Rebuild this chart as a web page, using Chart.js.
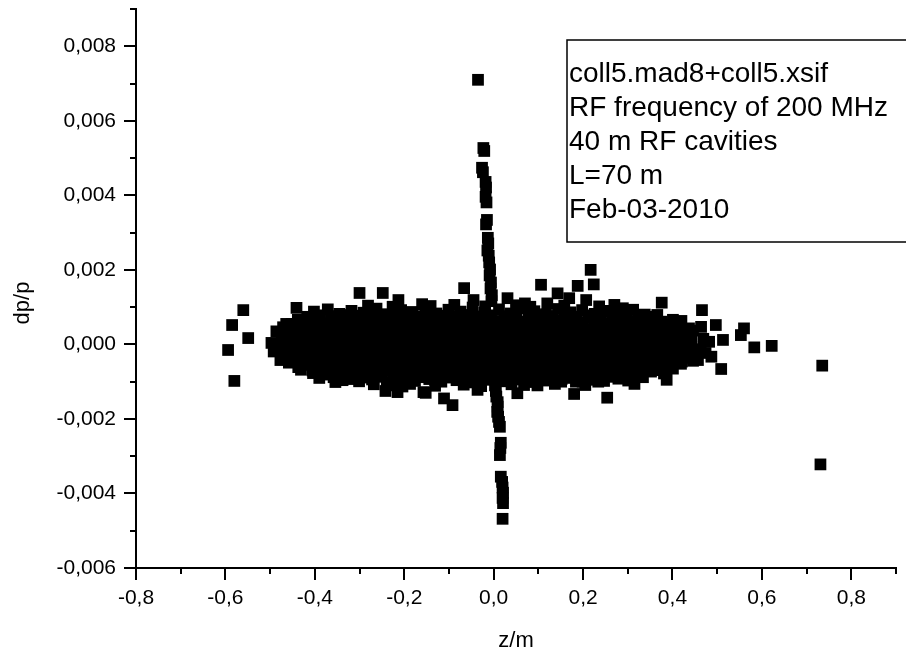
<!DOCTYPE html>
<html>
<head>
<meta charset="utf-8">
<script src="https://cdn.jsdelivr.net/npm/chart.js@4.4.1/dist/chart.umd.min.js"></script>
<style>
  html, body { margin: 0; padding: 0; background: #fff; }
  #wrap { width: 906px; height: 654px; }
</style>
</head>
<body>
<div id="wrap"><canvas id="myChart" width="906" height="654"></canvas></div>
<script>
  // axis ranges and tick steps
  const zMin = -0.8, zMax = 0.9, zStep = 0.1;
  const dpMin = -0.006, dpMax = 0.009, dpStep = 0.001;

  // text box in the upper right corner
  const noteLines = ['coll5.mad8+coll5.xsif', 'RF frequency of 200 MHz', '40 m RF cavities', 'L=70 m', 'Feb-03-2010'];

  // dense core of the bunch, [z, dp/p], read row by row
  const coreTop = [
    [-0.281,0.00104],[-0.226,0.00101],[-0.141,0.00103],[-0.088,0.00106],[-0.019,0.00102],[0.050,0.00105],[0.082,0.00101],
    [0.158,0.00104],[0.236,0.00102],[0.270,0.00106],
    [-0.402,0.00088],[-0.371,0.00094],[-0.345,0.00082],[-0.318,0.00090],[-0.291,0.00085],[-0.262,0.00096],[-0.238,0.00081],
    [-0.207,0.00092],[-0.181,0.00087],[-0.153,0.00097],[-0.128,0.00083],[-0.101,0.00093],[-0.074,0.00088],[-0.047,0.00099],
    [-0.021,0.00086],[0.012,0.00094],[0.038,0.00083],[0.064,0.00097],[0.091,0.00089],[0.117,0.00081],[0.144,0.00095],
    [0.172,0.00086],[0.198,0.00092],[0.226,0.00082],[0.254,0.00090],[0.283,0.00084],[0.312,0.00093],[0.338,0.00080],
    [-0.389,0.00078],[-0.358,0.00076],[-0.331,0.00079],[-0.304,0.00077],[-0.276,0.00075],[-0.250,0.00079],[-0.221,0.00076],
    [-0.194,0.00078],[-0.167,0.00075],[-0.141,0.00079],[-0.114,0.00077],[-0.087,0.00076],[-0.060,0.00079],[-0.034,0.00075],
    [-0.006,0.00078],[0.025,0.00076],[0.051,0.00079],[0.078,0.00075],[0.104,0.00078],[0.131,0.00076],[0.158,0.00079],
    [0.185,0.00074],[0.212,0.00078],[0.240,0.00076],[0.268,0.00079],[0.297,0.00075],[0.325,0.00077],[0.361,0.00074],
    [-0.438,0.00066],[-0.412,0.00071],[-0.389,0.00062],[-0.364,0.00069],[-0.337,0.00064],[-0.311,0.00072],[-0.286,0.00061],
    [-0.259,0.00068],[-0.233,0.00063],[-0.208,0.00070],[-0.182,0.00065],[-0.156,0.00071],[-0.131,0.00062],[-0.104,0.00069],
    [-0.079,0.00064],[-0.052,0.00072],[-0.026,0.00066],[0.004,0.00063],[0.029,0.00070],[0.055,0.00061],[0.081,0.00068],
    [0.107,0.00073],[0.133,0.00064],[0.159,0.00069],[0.186,0.00062],[0.212,0.00071],[0.239,0.00065],[0.266,0.00060],
    [0.292,0.00068],[0.321,0.00063],[0.349,0.00070],[0.376,0.00061],[0.401,0.00066],
    [-0.452,0.00055],[-0.425,0.00057],[-0.401,0.00054],[-0.376,0.00056],[-0.350,0.00058],[-0.323,0.00053],[-0.298,0.00056],
    [-0.272,0.00055],[-0.246,0.00057],[-0.220,0.00054],[-0.195,0.00056],[-0.169,0.00058],[-0.143,0.00053],[-0.117,0.00056],
    [-0.091,0.00055],[-0.065,0.00057],[-0.039,0.00054],[-0.013,0.00056],[0.016,0.00058],[0.042,0.00053],[0.068,0.00056],
    [0.094,0.00055],[0.120,0.00057],[0.146,0.00054],[0.172,0.00056],[0.199,0.00058],[0.225,0.00053],[0.252,0.00056],
    [0.279,0.00055],[0.306,0.00057],[0.334,0.00054],[0.362,0.00056],[0.390,0.00053],[0.418,0.00055],
    [-0.447,0.00042],[-0.423,0.00049],[-0.398,0.00044],[-0.374,0.00050],[-0.349,0.00041],[-0.324,0.00047],
    [-0.299,0.00043],[-0.273,0.00049],[-0.248,0.00045],[-0.222,0.00040],[-0.197,0.00048],[-0.171,0.00044],[-0.146,0.00050],
    [-0.121,0.00042],[-0.094,0.00047],[-0.068,0.00043],[-0.043,0.00049],[-0.017,0.00045],[0.011,0.00041],[0.036,0.00048],
    [0.062,0.00044],[0.088,0.00050],[0.114,0.00042],[0.139,0.00046],[0.166,0.00043],[0.191,0.00049],[0.217,0.00041],
    [0.243,0.00047],[0.269,0.00044],[0.296,0.00050],[0.323,0.00042],[0.351,0.00046],[0.379,0.00040],[0.408,0.00048],[0.437,0.00043]
  ];
  const coreMid = [
    [-0.461,0.00037],[-0.437,0.00034],[-0.412,0.00036],[-0.387,0.00038],[-0.362,0.00033],[-0.337,0.00036],
    [-0.311,0.00035],[-0.286,0.00037],[-0.261,0.00034],[-0.236,0.00036],[-0.210,0.00038],[-0.184,0.00033],[-0.159,0.00036],
    [-0.133,0.00035],[-0.108,0.00037],[-0.082,0.00034],[-0.056,0.00036],[-0.031,0.00038],[-0.005,0.00033],[0.021,0.00036],
    [0.047,0.00035],[0.073,0.00037],[0.099,0.00034],[0.125,0.00036],[0.151,0.00038],[0.177,0.00033],[0.203,0.00036],
    [0.229,0.00035],[0.256,0.00037],[0.282,0.00034],[0.309,0.00036],[0.336,0.00038],[0.363,0.00033],[0.390,0.00036],
    [0.418,0.00034],[0.446,0.00037],
    [-0.455,0.00029],[-0.431,0.00024],[-0.406,0.00030],[-0.382,0.00022],[-0.357,0.00028],
    [-0.332,0.00025],[-0.306,0.00021],[-0.281,0.00027],[-0.256,0.00023],[-0.231,0.00029],[-0.205,0.00024],[-0.180,0.00020],
    [-0.154,0.00026],[-0.129,0.00022],[-0.103,0.00028],[-0.077,0.00025],[-0.052,0.00021],[-0.026,0.00027],[0.002,0.00023],
    [0.027,0.00029],[0.053,0.00024],[0.079,0.00020],[0.105,0.00026],[0.131,0.00022],[0.157,0.00028],[0.183,0.00025],
    [0.209,0.00021],[0.235,0.00027],[0.261,0.00023],[0.288,0.00029],[0.314,0.00024],[0.341,0.00020],[0.368,0.00026],
    [0.396,0.00022],[0.423,0.00028],
    [-0.461,0.00016],[-0.437,0.00014],[-0.412,0.00017],[-0.387,0.00012],[-0.362,0.00015],
    [-0.337,0.00014],[-0.312,0.00016],[-0.287,0.00013],[-0.262,0.00015],[-0.236,0.00017],[-0.211,0.00012],[-0.185,0.00015],
    [-0.160,0.00014],[-0.134,0.00016],[-0.109,0.00013],[-0.083,0.00015],[-0.057,0.00017],[-0.032,0.00012],[-0.006,0.00015],
    [0.021,0.00014],[0.047,0.00016],[0.073,0.00013],[0.099,0.00015],[0.125,0.00017],[0.151,0.00012],[0.177,0.00015],
    [0.203,0.00014],[0.229,0.00016],[0.255,0.00013],[0.281,0.00015],[0.308,0.00017],[0.334,0.00012],[0.361,0.00015],
    [0.388,0.00014],[0.415,0.00016],[0.442,0.00013],
    [-0.474,0.00008],[-0.449,0.00003],[-0.425,0.00007],[-0.400,0.00001],[-0.375,0.00005],
    [-0.350,0.00009],[-0.325,0.00002],[-0.300,0.00006],[-0.274,0.00003],[-0.249,0.00008],[-0.224,0.00001],[-0.198,0.00005],
    [-0.173,0.00009],[-0.147,0.00002],[-0.122,0.00006],[-0.096,0.00003],[-0.070,0.00008],[-0.045,0.00001],[-0.019,0.00005],
    [0.008,0.00009],[0.034,0.00002],[0.060,0.00006],[0.086,0.00003],[0.112,0.00008],[0.138,0.00001],[0.164,0.00005],
    [0.190,0.00009],[0.216,0.00002],[0.242,0.00006],[0.268,0.00003],[0.294,0.00008],[0.321,0.00001],[0.347,0.00005],
    [0.374,0.00009],[0.401,0.00002],[0.428,0.00006],
    [-0.461,-0.00004],[-0.437,-0.00006],[-0.412,-0.00003],[-0.387,-0.00008],[-0.362,-0.00005],
    [-0.337,-0.00006],[-0.312,-0.00004],[-0.287,-0.00007],[-0.262,-0.00005],[-0.236,-0.00003],[-0.211,-0.00008],[-0.185,-0.00005],
    [-0.160,-0.00006],[-0.134,-0.00004],[-0.109,-0.00007],[-0.083,-0.00005],[-0.057,-0.00003],[-0.032,-0.00008],[-0.006,-0.00005],
    [0.021,-0.00006],[0.047,-0.00004],[0.073,-0.00007],[0.099,-0.00005],[0.125,-0.00003],[0.151,-0.00008],[0.177,-0.00005],
    [0.203,-0.00006],[0.229,-0.00004],[0.255,-0.00007],[0.281,-0.00005],[0.308,-0.00003],[0.334,-0.00008],[0.361,-0.00005],
    [0.388,-0.00006],[0.415,-0.00004],[0.442,-0.00007],
    [-0.468,-0.00013],[-0.443,-0.00018],[-0.418,-0.00014],[-0.393,-0.00020],[-0.368,-0.00016],
    [-0.343,-0.00012],[-0.318,-0.00018],[-0.293,-0.00015],[-0.267,-0.00019],[-0.242,-0.00013],[-0.216,-0.00017],[-0.191,-0.00014],
    [-0.165,-0.00020],[-0.140,-0.00016],[-0.114,-0.00012],[-0.088,-0.00018],[-0.063,-0.00015],[-0.037,-0.00019],[-0.011,-0.00013],
    [0.015,-0.00017],[0.041,-0.00014],[0.067,-0.00020],[0.093,-0.00016],[0.119,-0.00012],[0.145,-0.00018],[0.171,-0.00015],
    [0.197,-0.00019],[0.223,-0.00013],[0.249,-0.00017],[0.275,-0.00014],[0.302,-0.00020],[0.328,-0.00016],[0.355,-0.00012],
    [0.382,-0.00018],[0.409,-0.00015],[0.436,-0.00019]
  ];
  const coreLow = [
    [-0.456,-0.00025],[-0.432,-0.00027],[-0.407,-0.00029],[-0.382,-0.00024],[-0.357,-0.00027],
    [-0.332,-0.00026],[-0.307,-0.00028],[-0.281,-0.00025],[-0.256,-0.00027],[-0.230,-0.00029],[-0.205,-0.00024],[-0.179,-0.00027],
    [-0.154,-0.00026],[-0.128,-0.00028],[-0.102,-0.00025],[-0.077,-0.00027],[-0.051,-0.00029],[-0.025,-0.00024],[0.002,-0.00027],
    [0.028,-0.00026],[0.054,-0.00028],[0.080,-0.00025],[0.106,-0.00027],[0.132,-0.00029],[0.158,-0.00024],[0.184,-0.00027],
    [0.210,-0.00026],[0.236,-0.00028],[0.262,-0.00025],[0.288,-0.00027],[0.315,-0.00029],[0.341,-0.00024],[0.368,-0.00027],
    [0.395,-0.00026],[0.422,-0.00028],[0.448,-0.00025],
    [-0.471,-0.00040],[-0.447,-0.00034],[-0.422,-0.00039],[-0.397,-0.00035],[-0.372,-0.00041],[-0.347,-0.00037],
    [-0.322,-0.00033],[-0.296,-0.00039],[-0.271,-0.00036],[-0.245,-0.00040],[-0.220,-0.00034],[-0.194,-0.00038],[-0.169,-0.00035],
    [-0.143,-0.00041],[-0.117,-0.00037],[-0.092,-0.00033],[-0.066,-0.00039],[-0.040,-0.00036],[-0.014,-0.00040],[0.013,-0.00034],
    [0.039,-0.00038],[0.065,-0.00035],[0.091,-0.00041],[0.117,-0.00037],[0.143,-0.00033],[0.169,-0.00039],[0.195,-0.00036],
    [0.221,-0.00040],[0.247,-0.00034],[0.273,-0.00038],[0.299,-0.00035],[0.326,-0.00041],[0.352,-0.00037],[0.379,-0.00033],
    [0.405,-0.00039],[0.432,-0.00036],
    [-0.458,-0.00049],[-0.434,-0.00046],[-0.409,-0.00048],[-0.384,-0.00050],[-0.359,-0.00045],[-0.334,-0.00048],
    [-0.309,-0.00047],[-0.283,-0.00049],[-0.258,-0.00046],[-0.232,-0.00048],[-0.207,-0.00050],[-0.181,-0.00045],[-0.156,-0.00048],
    [-0.130,-0.00047],[-0.104,-0.00049],[-0.079,-0.00046],[-0.053,-0.00048],[-0.027,-0.00050],[-0.001,-0.00045],[0.026,-0.00048],
    [0.052,-0.00047],[0.078,-0.00049],[0.104,-0.00046],[0.130,-0.00048],[0.156,-0.00050],[0.182,-0.00045],[0.208,-0.00048],
    [0.234,-0.00047],[0.261,-0.00049],[0.287,-0.00046],[0.314,-0.00048],[0.341,-0.00050],[0.368,-0.00045],[0.395,-0.00048],
    [0.421,-0.00046],[0.446,-0.00044],
    [-0.437,-0.00061],[-0.412,-0.00055],[-0.387,-0.00060],[-0.362,-0.00056],[-0.337,-0.00062],[-0.311,-0.00058],
    [-0.286,-0.00054],[-0.260,-0.00060],[-0.235,-0.00057],[-0.209,-0.00061],[-0.184,-0.00055],[-0.158,-0.00059],[-0.132,-0.00056],
    [-0.107,-0.00062],[-0.081,-0.00058],[-0.055,-0.00054],[-0.029,-0.00060],[-0.003,-0.00057],[0.023,-0.00061],[0.049,-0.00055],
    [0.075,-0.00059],[0.101,-0.00056],[0.127,-0.00062],[0.153,-0.00058],[0.179,-0.00054],[0.205,-0.00060],[0.231,-0.00057],
    [0.258,-0.00061],[0.284,-0.00055],[0.311,-0.00059],[0.338,-0.00056],[0.365,-0.00062],[0.392,-0.00058],[0.419,-0.00052],
    [-0.431,-0.00068],[-0.405,-0.00070],[-0.380,-0.00067],[-0.355,-0.00069],[-0.329,-0.00071],[-0.304,-0.00066],[-0.278,-0.00069],
    [-0.252,-0.00068],[-0.227,-0.00070],[-0.201,-0.00067],[-0.175,-0.00069],[-0.149,-0.00071],[-0.124,-0.00066],[-0.098,-0.00069],
    [-0.072,-0.00068],[-0.046,-0.00070],[-0.020,-0.00067],[0.006,-0.00069],[0.032,-0.00071],[0.058,-0.00066],[0.084,-0.00069],
    [0.110,-0.00068],[0.136,-0.00070],[0.162,-0.00067],[0.188,-0.00069],[0.214,-0.00071],[0.240,-0.00066],[0.266,-0.00069],
    [0.293,-0.00068],[0.320,-0.00070],[0.347,-0.00067],[0.374,-0.00069],[0.401,-0.00065],
    [-0.404,-0.00077],[-0.378,-0.00081],[-0.352,-0.00075],[-0.327,-0.00080],[-0.301,-0.00076],[-0.276,-0.00082],[-0.250,-0.00078],
    [-0.224,-0.00074],[-0.198,-0.00080],[-0.173,-0.00077],[-0.147,-0.00081],[-0.121,-0.00075],[-0.095,-0.00079],[-0.069,-0.00076],
    [-0.043,-0.00082],[-0.017,-0.00078],[0.009,-0.00074],[0.035,-0.00080],[0.061,-0.00077],[0.087,-0.00081],[0.113,-0.00075],
    [0.139,-0.00079],[0.165,-0.00076],[0.191,-0.00082],[0.217,-0.00078],[0.243,-0.00074],[0.270,-0.00080],[0.297,-0.00077],
    [0.324,-0.00081],[0.352,-0.00073],[0.381,-0.00078],
    [-0.358,-0.00088],[-0.321,-0.00086],[-0.287,-0.00089],[-0.255,-0.00087],[-0.224,-0.00090],[-0.192,-0.00086],[-0.160,-0.00088],
    [-0.130,-0.00087],[-0.100,-0.00089],[-0.068,-0.00086],[-0.036,-0.00090],[-0.006,-0.00087],[0.010,-0.00092],[0.042,-0.00088],
    [0.073,-0.00086],[0.105,-0.00089],[0.137,-0.00087],[0.168,-0.00090],[0.200,-0.00086],[0.232,-0.00089],[0.263,-0.00087],
    [0.290,-0.00085],[0.334,-0.00088],
    [-0.338,-0.00096],[-0.301,-0.00099],[-0.272,-0.00094],[-0.239,-0.00101],[-0.208,-0.00095],[-0.176,-0.00098],[-0.144,-0.00093],
    [-0.117,-0.00100],[-0.083,-0.00096],[-0.052,-0.00102],[-0.021,-0.00095],[0.026,-0.00099],[0.058,-0.00094],[0.089,-0.00101],
    [0.121,-0.00097],[0.152,-0.00093],[0.184,-0.00100],[0.216,-0.00095],[0.247,-0.00098],[0.279,-0.00092],[0.301,-0.00097],
    [-0.268,-0.00107],[-0.224,-0.00110],[-0.187,-0.00106],[-0.131,-0.00111],[-0.067,-0.00108],[-0.028,-0.00112],[0.040,-0.00107],
    [0.098,-0.00110],[0.137,-0.00106],[0.205,-0.00109]
  ];

  // loose particles around the core
  const haloLeft = [
    [-0.594,-0.00015],[-0.585,0.00052],[-0.580,-0.00098],[-0.560,0.00092],[-0.549,0.00017],
    [-0.497,0.00004],[-0.477,-0.00042],[-0.464,0.00055],[-0.444,-0.00028],[-0.441,0.00098],[-0.426,0.00025],[-0.417,0.00074],
    [-0.486,0.00035],[-0.492,-0.00019],[-0.471,0.00046]
  ];
  const haloUpper = [
    [-0.300,0.00138],[-0.248,0.00138],[-0.213,0.00119],[-0.160,0.00108],[-0.066,0.00151],[-0.045,0.00119],[0.031,0.00124],
    [0.070,0.00110],[0.106,0.00160],[0.120,0.00110],[0.143,0.00137],[0.169,0.00124],[0.188,0.00157],[0.207,0.00119],
    [0.217,0.00200],[0.224,0.00161]
  ];
  const haloLower = [
    [-0.390,-0.00090],[-0.354,-0.00101],[-0.316,-0.00093],[-0.242,-0.00125],[-0.215,-0.00128],[-0.204,-0.00113],[-0.157,-0.00128],
    [-0.152,-0.00130],[-0.111,-0.00145],[-0.092,-0.00163],[-0.036,-0.00122],[0.053,-0.00131],[0.068,-0.00109],[0.151,-0.00100],
    [0.180,-0.00133],[0.199,-0.00100],[0.234,-0.00100],[0.254,-0.00143],[0.263,-0.00064],[0.267,-0.00077],[0.315,-0.00106],
    [0.323,-0.00060],[0.330,-0.00042],[0.387,-0.00095]
  ];
  const haloRight = [
    [0.247,0.00088],[0.289,0.00097],[0.281,0.00092],[0.300,0.00039],[0.334,0.00077],[0.345,0.00030],[0.366,0.00079],
    [0.376,0.00112],[0.375,-0.00015],[0.420,0.00063],[0.420,-0.00033],[0.442,0.00021],[0.457,-0.00042],[0.464,0.00047],
    [0.466,0.00092],[0.487,-0.00033],[0.497,0.00052],[0.509,-0.00066],[0.513,0.00012],[0.553,0.00025],[0.560,0.00043],
    [0.583,-0.00008],[0.622,-0.00004],[0.735,-0.00057],[0.731,-0.00322],
    [0.469,0.00015],[0.482,0.00007],[0.463,-0.00013],[0.474,-0.00023]
  ];

  // narrow vertical spike near z = 0
  const spikeUp = [
    [-0.035,0.00710],[-0.023,0.00527],[-0.021,0.00519],[-0.026,0.00474],[-0.024,0.00462],[-0.018,0.00436],[-0.017,0.00421],
    [-0.018,0.00396],[-0.016,0.00381],[-0.015,0.00334],[-0.017,0.00322],[-0.013,0.00286],[-0.012,0.00271],[-0.014,0.00252],
    [-0.011,0.00238],[-0.010,0.00220],[-0.008,0.00201],[-0.009,0.00185],[-0.006,0.00166],[-0.007,0.00150],[-0.004,0.00132],
    [-0.005,0.00116]
  ];
  const spikeDown = [
    [0.003,-0.00110],[0.005,-0.00125],[0.006,-0.00140],[0.009,-0.00155],[0.009,-0.00167],[0.008,-0.00181],[0.010,-0.00194],
    [0.012,-0.00208],[0.014,-0.00221],[0.016,-0.00264],[0.015,-0.00278],[0.014,-0.00297],[0.016,-0.00355],[0.019,-0.00369],
    [0.020,-0.00384],[0.021,-0.00398],[0.020,-0.00412],[0.021,-0.00426],[0.020,-0.00468]
  ];

  const FONT = '"Liberation Sans", Arial, Helvetica, sans-serif';

  const allPoints = [].concat(coreTop, coreMid, coreLow, haloLeft, haloUpper, haloLower, haloRight, spikeUp, spikeDown)
    .map(p => ({x: p[0], y: p[1]}));

  function isMajor(v, step) {
    return Math.abs(Math.round(v / step)) % 2 === 0;
  }
  function commaNum(v, digits) {
    let s = (Math.abs(v) < 1e-12 ? 0 : v).toFixed(digits);
    if (s.startsWith('-') && Number(s) === 0) s = s.slice(1);
    return s.replace('.', ',');
  }

  // Origin style outward major/minor ticks, y title and the note box
  const decorations = {
    id: 'decorations',
    afterDraw(chart) {
      const ctx = chart.ctx;
      const xs = chart.scales.x, ys = chart.scales.y;
      const area = chart.chartArea;
      ctx.save();
      ctx.strokeStyle = '#000';
      ctx.lineWidth = 2;
      ctx.beginPath();
      xs.ticks.forEach(t => {
        const px = Math.round(xs.getPixelForValue(t.value));
        const len = isMajor(t.value, zStep) ? 12 : 6;
        ctx.moveTo(px, area.bottom);
        ctx.lineTo(px, area.bottom + len);
      });
      ys.ticks.forEach(t => {
        const py = Math.round(ys.getPixelForValue(t.value));
        const len = isMajor(t.value, dpStep) ? 12 : 6;
        ctx.moveTo(area.left, py);
        ctx.lineTo(area.left - len, py);
      });
      ctx.stroke();

      // y axis title sits a bit below the middle of the axis in the original
      ctx.fillStyle = '#000';
      ctx.font = '22px ' + FONT;
      ctx.textAlign = 'center';
      ctx.textBaseline = 'middle';
      ctx.translate(23, 303);
      ctx.rotate(-Math.PI / 2);
      ctx.fillText('dp/p', 0, 0);
      ctx.setTransform(1, 0, 0, 1, 0, 0);

      // the note box
      ctx.lineWidth = 1.5;
      ctx.strokeRect(567, 40, 360, 202);
      ctx.font = '28px ' + FONT;
      ctx.textAlign = 'left';
      ctx.textBaseline = 'alphabetic';
      noteLines.forEach((line, i) => ctx.fillText(line, 569, 82 + i * 34));
      ctx.restore();
    }
  };

  const canvas = document.getElementById('myChart');
  new Chart(canvas, {
    type: 'scatter',
    data: {
      datasets: [{
        label: 'dp/p',
        data: allPoints,
        pointStyle: 'rect',
        pointRadius: 8.3,
        pointHoverRadius: 8.3,
        borderWidth: 0,
        backgroundColor: '#000',
        borderColor: '#000'
      }]
    },
    options: {
      responsive: false,
      animation: false,
      devicePixelRatio: 1,
      layout: { padding: { top: 9, right: 10, left: 0, bottom: 0 } },
      plugins: {
        legend: { display: false },
        tooltip: { enabled: false },
        title: { display: false }
      },
      scales: {
        x: {
          type: 'linear',
          min: zMin, max: zMax,
          afterFit: s => { s.height = 86; s.paddingLeft = 0; s.paddingRight = 0; },
          border: { display: true, color: '#000', width: 2 },
          grid: { display: true, drawOnChartArea: false, drawTicks: true, tickLength: 12, tickColor: 'rgba(0,0,0,0)' },
          ticks: {
            stepSize: zStep, maxTicksLimit: 100, autoSkip: false, maxRotation: 0,
            padding: 6, color: '#000', font: { family: FONT, size: 21 },
            callback: v => isMajor(v, zStep) ? commaNum(v, 1) : ''
          },
          title: { display: true, text: 'z/m', color: '#000', font: { family: FONT, size: 22 }, padding: { top: 0, bottom: 0 } }
        },
        y: {
          type: 'linear',
          min: dpMin, max: dpMax,
          afterFit: s => { s.width = 136; s.paddingTop = 0; s.paddingBottom = 0; },
          border: { display: true, color: '#000', width: 2 },
          grid: { display: true, drawOnChartArea: false, drawTicks: true, tickLength: 12, tickColor: 'rgba(0,0,0,0)' },
          ticks: {
            stepSize: dpStep, maxTicksLimit: 100, autoSkip: false,
            padding: 8, color: '#000', font: { family: FONT, size: 21 },
            callback: v => isMajor(v, dpStep) ? commaNum(v, 3) : ''
          },
          title: { display: false }
        }
      }
    },
    plugins: [decorations]
  });
</script>
</body>
</html>
